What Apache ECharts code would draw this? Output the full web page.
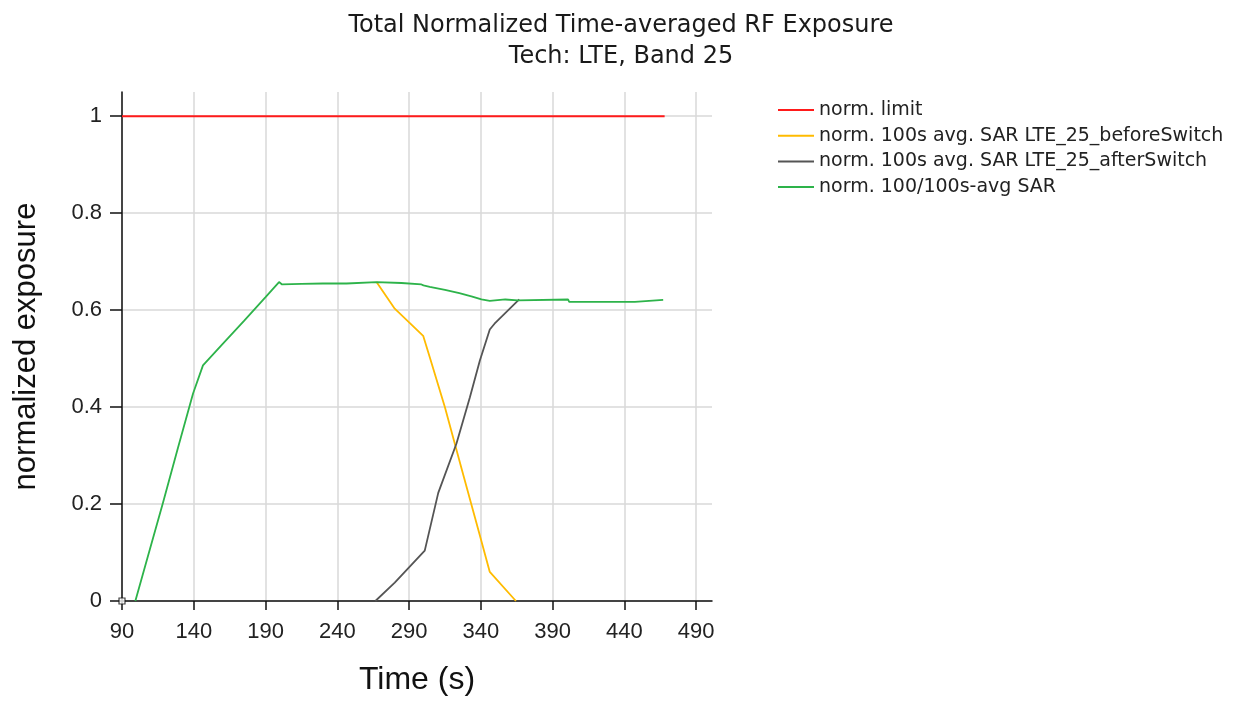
<!DOCTYPE html>
<html>
<head>
<meta charset="utf-8">
<title>Total Normalized Time-averaged RF Exposure</title>
<script src="https://cdn.jsdelivr.net/npm/echarts@6/dist/echarts.min.js"></script>
<style>
  html, body { margin: 0; padding: 0; background: #fff; }
  #chart { width: 1242px; height: 701px; }
</style>
</head>
<body>
<div id="chart"></div>
<script>
// Axis ticks
const xTicks = [90, 140, 190, 240, 290, 340, 390, 440, 490];
const yTicks = [0, 0.2, 0.4, 0.6, 0.8, 1];

// Series: [time (s), normalized exposure]
const normLimit = [[90, 1], [468, 1]];

const beforeSwitch = [
  [267.3, 0.658], [280, 0.603], [299.8, 0.547], [304.4, 0.503], [314.9, 0.400],
  [327, 0.268], [339.3, 0.135], [346.2, 0.060], [364.4, 0.0]
];

const afterSwitch = [
  [266.5, 0.0], [280, 0.038], [300.9, 0.104], [310.3, 0.223], [323, 0.325],
  [332.3, 0.420], [339.3, 0.496], [346.2, 0.560], [349.5, 0.572], [366.7, 0.622]
];

const totalAvg = [
  [99.3, 0.0], [108, 0.092], [118.6, 0.203], [129, 0.316], [139.5, 0.428],
  [146.4, 0.486], [160, 0.530], [175, 0.578], [190, 0.627], [199.4, 0.658],
  [201.5, 0.653], [215, 0.654], [230, 0.655], [246.4, 0.655], [246.6, 0.658],
  [267.3, 0.658], [284.7, 0.656], [285, 0.653], [298.6, 0.653], [300, 0.651],
  [304.4, 0.648], [315, 0.642], [325, 0.635], [334, 0.628], [340.4, 0.622],
  [341, 0.619], [346.2, 0.619], [346.5, 0.622], [357, 0.622], [357.5, 0.620],
  [365.7, 0.620], [366, 0.622], [400.8, 0.622], [401.5, 0.617], [447.3, 0.617],
  [448, 0.621], [467, 0.621]
];

const origin = [[90, 0]];

const chart = echarts.init(document.getElementById('chart'));

const lineSeries = (name, data, color, width) => ({
  name: name,
  type: 'line',
  data: data,
  showSymbol: false,
  symbol: 'none',
  animation: false,
  lineStyle: { color: color, width: width },
  itemStyle: { color: color }
});

chart.setOption({
  animation: false,
  title: {
    text: 'Total Normalized Time-averaged RF Exposure\nTech: LTE, Band 25',
    left: 'center',
    top: 5,
    textStyle: {
      fontFamily: 'DejaVu Sans',
      fontSize: 24,
      fontWeight: 'normal',
      color: '#1a1a1a',
      lineHeight: 31
    }
  },
  legend: {
    orient: 'vertical',
    left: 773,
    top: 95,
    itemWidth: 36,
    itemHeight: 2,
    itemGap: 5.7,
    icon: 'rect',
    data: [
      'norm. limit',
      'norm. 100s avg. SAR LTE_25_beforeSwitch',
      'norm. 100s avg. SAR LTE_25_afterSwitch',
      'norm. 100/100s-avg SAR'
    ],
    textStyle: {
      fontFamily: 'DejaVu Sans',
      fontSize: 19,
      color: '#222',
      lineHeight: 20
    }
  },
  grid: {
    left: 122,
    right: 530,
    top: 92,
    bottom: 95,
    containLabel: false
  },
  xAxis: {
    type: 'value',
    min: 90,
    max: 501,
    name: 'Time (s)',
    nameLocation: 'middle',
    nameGap: 63,
    nameTextStyle: {
      fontFamily: 'Liberation Sans',
      fontSize: 32,
      color: '#111'
    },
    axisLine: { show: true, onZero: false, lineStyle: { color: '#111', width: 1.5 } },
    axisTick: {
      show: true,
      length: 9,
      customValues: xTicks,
      lineStyle: { color: '#111', width: 1.5 }
    },
    axisLabel: {
      customValues: xTicks,
      margin: 20,
      fontFamily: 'Liberation Sans',
      fontSize: 22,
      color: '#222'
    },
    splitLine: {
      show: true,
      lineStyle: { color: '#d9d9d9', width: 1.5 }
    }
  },
  yAxis: {
    type: 'value',
    min: 0,
    max: 1.05,
    name: 'normalized exposure',
    nameLocation: 'middle',
    nameGap: 80,
    nameTextStyle: {
      fontFamily: 'Liberation Sans',
      fontSize: 31,
      color: '#111'
    },
    axisLine: { show: true, onZero: false, lineStyle: { color: '#111', width: 1.5 } },
    axisTick: {
      show: true,
      length: 12,
      customValues: yTicks,
      lineStyle: { color: '#111', width: 1.5 }
    },
    axisLabel: {
      customValues: yTicks,
      margin: 20,
      fontFamily: 'Liberation Sans',
      fontSize: 22,
      color: '#222'
    },
    splitLine: {
      show: true,
      lineStyle: { color: '#d9d9d9', width: 1.5 }
    }
  },
  series: [
    lineSeries('norm. limit', normLimit, '#ff1a1a', 1.8),
    lineSeries('norm. 100s avg. SAR LTE_25_beforeSwitch', beforeSwitch, '#ffbb00', 1.8),
    lineSeries('norm. 100s avg. SAR LTE_25_afterSwitch', afterSwitch, '#555555', 1.8),
    lineSeries('norm. 100/100s-avg SAR', totalAvg, '#2db34a', 1.8),
    {
      type: 'scatter',
      data: origin,
      symbol: 'rect',
      symbolSize: 6,
      silent: true,
      animation: false,
      itemStyle: { color: '#fff', borderColor: '#111', borderWidth: 1.2 },
      z: 5
    }
  ]
});
</script>
</body>
</html>
